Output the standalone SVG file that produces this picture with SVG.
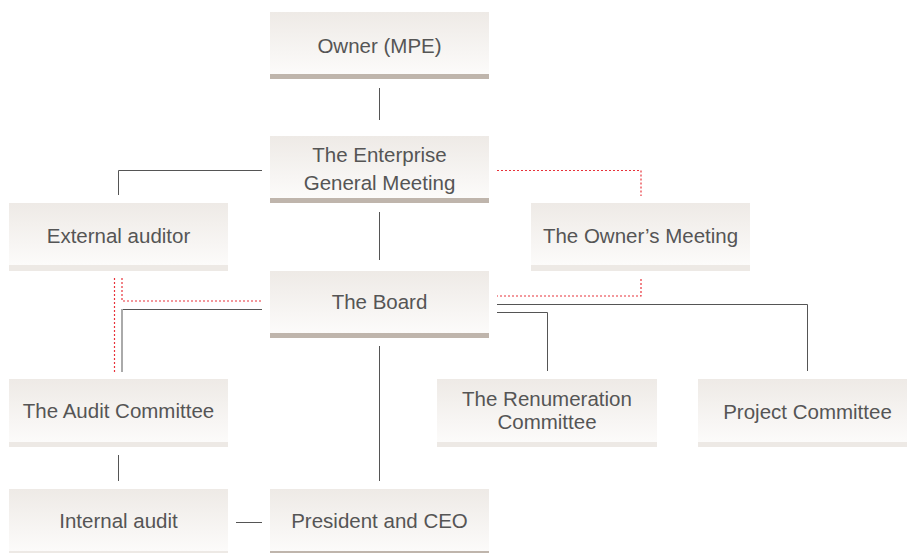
<svg xmlns="http://www.w3.org/2000/svg" width="907" height="553" viewBox="0 0 907 553">
<defs>
<linearGradient id="g" x1="0" y1="0" x2="0" y2="1">
<stop offset="0" stop-color="#eeeae6"/>
<stop offset="1" stop-color="#fcfbfa"/>
</linearGradient>
</defs>
<style>
.box{fill:url(#g)}
.barD{fill:#bfb5ac}
.barL{fill:#ede9e5}
text{font-family:"Liberation Sans",Arial,sans-serif;font-size:20.5px;fill:#555;text-anchor:middle}
.ln{stroke:#555;stroke-width:1;fill:none}
.lnl{stroke:#aaa;stroke-width:2;fill:none}
.red{stroke:#e8323a;stroke-width:1.2;stroke-dasharray:2 2;fill:none}
</style>
<g id="connectors">
<line class="ln" x1="379.5" y1="88" x2="379.5" y2="120"/>
<polyline class="ln" points="262,170.5 118.5,170.5 118.5,195"/>
<line class="ln" x1="379.5" y1="212" x2="379.5" y2="260"/>
<polyline class="red" points="497,170.5 641,170.5 641,196"/>
<polyline class="red" points="641,279 641,296 497,296"/>
<polyline class="ln" points="497,304.5 807.5,304.5 807.5,371"/>
<polyline class="ln" points="497,312.5 547.5,312.5 547.5,371"/>
<line class="red" x1="114.5" y1="278" x2="114.5" y2="372"/>
<polyline class="red" points="122,278 122,301 262,301"/>
<line class="ln" x1="122" y1="309.5" x2="262" y2="309.5"/>
<line class="lnl" x1="122" y1="309" x2="122" y2="372"/>
<line class="ln" x1="118.5" y1="455" x2="118.5" y2="481"/>
<line class="ln" x1="379.5" y1="346" x2="379.5" y2="481"/>
<line class="ln" x1="236" y1="522.5" x2="262" y2="522.5"/>
</g>
<g id="owner">
<rect class="box" x="270" y="12" width="219" height="62"/>
<rect class="barD" x="270" y="74" width="219" height="5"/>
<text x="379.5" y="53">Owner (MPE)</text>
</g>
<g id="egm">
<rect class="box" x="270" y="136" width="219" height="62"/>
<rect class="barD" x="270" y="198" width="219" height="5"/>
<text x="379.5" y="162">The Enterprise</text>
<text x="379.5" y="190">General Meeting</text>
</g>
<g id="external-auditor">
<rect class="box" x="9" y="203" width="219" height="62"/>
<rect class="barL" x="9" y="265" width="219" height="6"/>
<text x="118.5" y="243">External auditor</text>
</g>
<g id="owners-meeting">
<rect class="box" x="531" y="203" width="219" height="62"/>
<rect class="barL" x="531" y="265" width="219" height="6"/>
<text x="640.5" y="243">The Owner’s Meeting</text>
</g>
<g id="board">
<rect class="box" x="270" y="271" width="219" height="62"/>
<rect class="barD" x="270" y="333" width="219" height="5"/>
<text x="379.5" y="309">The Board</text>
</g>
<g id="audit-committee">
<rect class="box" x="9" y="379" width="219" height="63"/>
<rect class="barL" x="9" y="442" width="219" height="5"/>
<text x="118.5" y="418">The Audit Committee</text>
</g>
<g id="renumeration">
<rect class="box" x="437" y="379" width="220" height="63"/>
<rect class="barL" x="437" y="442" width="220" height="5"/>
<text x="547" y="406">The Renumeration</text>
<text x="547" y="429">Committee</text>
</g>
<g id="project">
<rect class="box" x="698" y="379" width="219" height="63"/>
<rect class="barL" x="698" y="442" width="219" height="5"/>
<text x="807.5" y="419">Project Committee</text>
</g>
<g id="internal-audit">
<rect class="box" x="9" y="489" width="219" height="62"/>
<rect class="barL" x="9" y="551" width="219" height="5"/>
<text x="118.5" y="528">Internal audit</text>
</g>
<g id="president">
<rect class="box" x="270" y="489" width="219" height="62"/>
<rect class="barD" x="270" y="551" width="219" height="5"/>
<text x="379.5" y="528">President and CEO</text>
</g>
</svg>
